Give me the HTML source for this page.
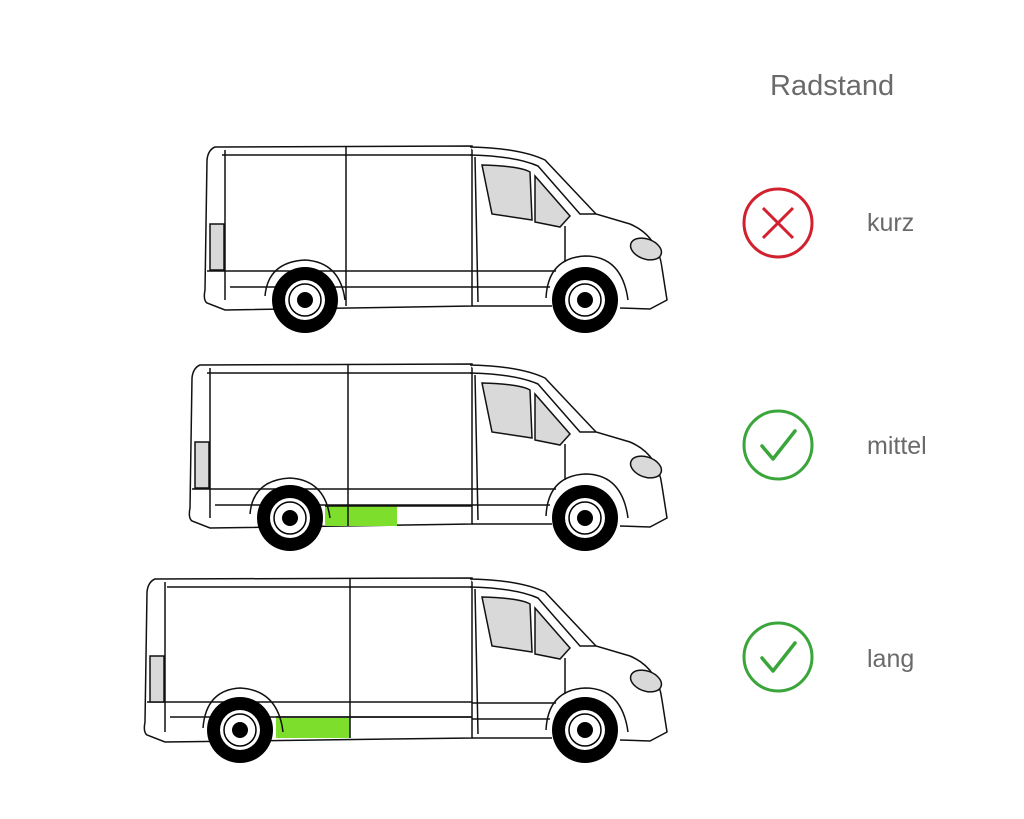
<!DOCTYPE html>
<html><head><meta charset="utf-8"><style>
html,body{margin:0;padding:0;background:#fff}
svg{display:block}
text{font-family:"Liberation Sans","DejaVu Sans",sans-serif;fill:#6a6a6a}
</style></head><body>
<svg width="1024" height="819" viewBox="0 0 1024 819" xmlns="http://www.w3.org/2000/svg">
<defs>
<g id="front" fill="none" stroke="#111" stroke-width="1.5">
  <path d="M470,147 Q520,148 545,160 L596,214 L630,224 Q658,236 662,268 L667,300 L650,309 L620,308" fill="#fff"/>
  <path d="M470,155 Q515,156 538,166 L580,214 L596,214"/>
  <path d="M482,165 Q520,166 530,172 L532,220 L492,214 Z" fill="#d9d9d9"/>
  <path d="M535,176 L570,216 L560,227 L535,222 Z" fill="#d9d9d9"/>
  <path d="M475,157 L478,302"/>
  <path d="M565,226 L565,262"/>
  <ellipse cx="646" cy="249" rx="16" ry="10" transform="rotate(20 646 249)" fill="#d9d9d9"/>
  <path d="M546,298 Q548,258 585,256 Q622,256 628,300"/>
  <path d="M472,271 L556,271 M472,287 L550,287 M472,306 L552,306"/>
</g>
<g id="wheel">
  <circle r="33" fill="#000"/>
  <circle r="20" fill="#fff"/>
  <circle r="16" fill="none" stroke="#000" stroke-width="1.5"/>
  <circle r="8" fill="#000"/>
</g>
</defs>

<text x="770" y="95" font-size="29">Radstand</text>
<text x="867" y="231" font-size="25">kurz</text>
<text x="867" y="454" font-size="25">mittel</text>
<text x="867" y="667" font-size="25">lang</text>

<circle cx="778" cy="223" r="34" fill="none" stroke="#d3202e" stroke-width="3"/>
<path d="M763,208 L793,238 M793,208 L763,238" stroke="#d3202e" stroke-width="3"/>
<circle cx="778" cy="445" r="34" fill="none" stroke="#3aa53a" stroke-width="3"/>
<path d="M762,446 L773,459 L795,431" fill="none" stroke="#3aa53a" stroke-width="3.5" stroke-linecap="round" stroke-linejoin="round"/>
<circle cx="778" cy="657" r="34" fill="none" stroke="#3aa53a" stroke-width="3"/>
<path d="M762,658 L773,671 L795,643" fill="none" stroke="#3aa53a" stroke-width="3.5" stroke-linecap="round" stroke-linejoin="round"/>

<!-- Van 1 -->
<g fill="none" stroke="#111" stroke-width="1.5">
  <path d="M215,147 L472,146 L472,306 L225,310 L207,303 Q203,300 205,290 L207,160 Q208,150 215,147 Z" fill="#fff"/>
  <path d="M222,155 L472,155"/><path d="M207,271 L472,271"/><path d="M230,287 L472,287"/>
  <path d="M346,146 L346,306"/><path d="M225,150 L225,300"/>
  <rect x="210" y="224" width="14" height="46" fill="#d9d9d9"/>
  <path d="M265,296 Q268,262 305,260 Q340,262 345,300"/>
</g>
<use href="#front"/>
<use href="#wheel" x="305" y="300"/>
<use href="#wheel" x="585" y="300"/>

<!-- Van 2 -->
<g transform="translate(0,218)">
<g fill="none" stroke="#111" stroke-width="1.5">
  <path d="M200,147 L472,146 L472,306 L210,310 L192,303 Q188,300 190,290 L192,160 Q193,150 200,147 Z" fill="#fff"/>
  <path d="M207,155 L472,155"/><path d="M192,271 L472,271"/><path d="M215,287 L472,287"/>
  <path d="M210,150 L210,300"/>
  <rect x="195" y="224" width="14" height="46" fill="#d9d9d9"/>
</g>
<rect x="325" y="288" width="72" height="20" fill="#7ddf2c"/>
<path d="M348,146 L348,308 M325,288 L472,288" stroke="#111" stroke-width="1.5"/>
<path d="M250,296 Q253,262 290,260 Q325,262 330,300" fill="none" stroke="#111" stroke-width="1.5"/>
<use href="#front"/>
<use href="#wheel" x="290" y="300"/>
<use href="#wheel" x="585" y="300"/>
</g>

<!-- Van 3 -->
<g transform="translate(0,432)">
<g fill="none" stroke="#111" stroke-width="1.5">
  <path d="M155,147 L472,146 L472,306 L165,310 L147,303 Q143,300 145,290 L147,160 Q148,150 155,147 Z" fill="#fff"/>
  <path d="M167,155 L472,155"/><path d="M147,270 L472,270"/><path d="M170,285 L472,285"/>
  <path d="M165,150 L165,300"/>
  <rect x="150" y="224" width="14" height="46" fill="#d9d9d9"/>
</g>
<rect x="276" y="286" width="74" height="20" fill="#7ddf2c"/>
<path d="M350,146 L350,306 M276,285 L472,285" stroke="#111" stroke-width="1.5"/>
<path d="M203,296 Q206,258 240,256 Q278,258 283,300" fill="none" stroke="#111" stroke-width="1.5"/>
<use href="#front"/>
<use href="#wheel" x="240" y="298"/>
<use href="#wheel" x="585" y="298"/>
</g>
</svg>
</body></html>
